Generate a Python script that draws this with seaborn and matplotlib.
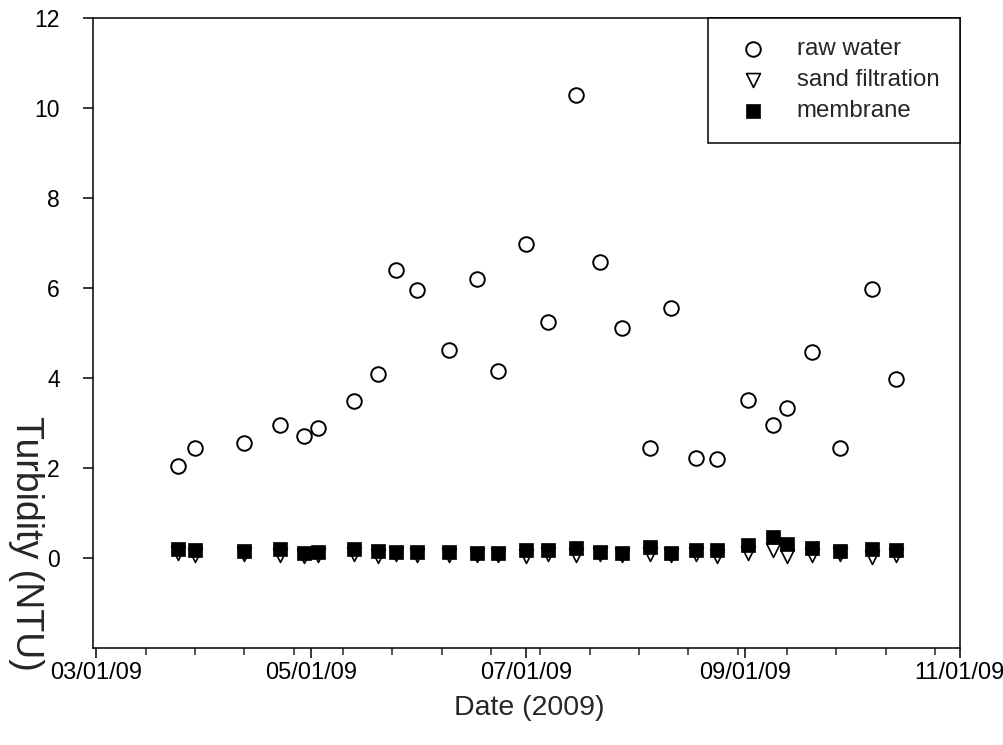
import pandas as pd
import matplotlib
matplotlib.use('Agg')
import matplotlib.pyplot as plt
import matplotlib.dates as mdates
import seaborn as sns

# sample dates and turbidity values (NTU)
dates = ['2009-03-24', '2009-03-29', '2009-04-12', '2009-04-22', '2009-04-29',
         '2009-05-03', '2009-05-13', '2009-05-20', '2009-05-25', '2009-05-31',
         '2009-06-09', '2009-06-17', '2009-06-23', '2009-07-01', '2009-07-07',
         '2009-07-15', '2009-07-22', '2009-07-28', '2009-08-05', '2009-08-11',
         '2009-08-18', '2009-08-24', '2009-09-02', '2009-09-09', '2009-09-13',
         '2009-09-20', '2009-09-28', '2009-10-07', '2009-10-14']
raw_water = [2.05, 2.45, 2.55, 2.95, 2.72, 2.90, 3.50, 4.10, 6.40, 5.95,
             4.63, 6.20, 4.15, 6.98, 5.25, 10.30, 6.57, 5.12, 2.45, 5.55,
             2.22, 2.20, 3.52, 2.96, 3.33, 4.57, 2.45, 5.98, 3.98]
sand_filtration = [0.12, 0.06, 0.10, 0.06, 0.05, 0.07, 0.10, 0.05, 0.08, 0.07,
                   0.07, 0.06, 0.07, 0.05, 0.08, 0.06, 0.08, 0.07, 0.09, 0.07,
                   0.08, 0.05, 0.12, 0.18, 0.04, 0.07, 0.08, 0.02, 0.06]
membrane = [0.19, 0.17, 0.16, 0.19, 0.11, 0.14, 0.19, 0.15, 0.14, 0.13,
            0.13, 0.12, 0.12, 0.17, 0.17, 0.22, 0.13, 0.12, 0.24, 0.12,
            0.17, 0.17, 0.29, 0.46, 0.32, 0.22, 0.16, 0.19, 0.18]

df = pd.DataFrame({'date': pd.to_datetime(dates), 'raw': raw_water,
                   'sand': sand_filtration, 'membrane': membrane})

sns.set_style('ticks')
plt.rcParams['font.family'] = ['Liberation Sans', 'DejaVu Sans']

fig = plt.figure(figsize=(10.04, 7.45), dpi=100)
ax = fig.add_axes([0.0926, 0.1302, 0.8634, 0.8456])

sns.scatterplot(data=df, x='date', y='raw', marker='o', s=110, color='white',
                edgecolor='black', linewidth=1.4, label='raw water', ax=ax, zorder=3)
sns.scatterplot(data=df, x='date', y='sand', marker='v', s=100, color='white',
                edgecolor='black', linewidth=1.2, label='sand filtration', ax=ax, zorder=4)
sns.scatterplot(data=df, x='date', y='membrane', marker='s', s=105, color='black',
                edgecolor='black', linewidth=0.5, label='membrane', ax=ax, zorder=5)

ax.set_xlim(pd.Timestamp('2009-02-28'), pd.Timestamp('2009-11-01'))
ax.set_ylim(-2, 12)
ax.set_yticks(range(0, 13, 2))
ax.xaxis.set_major_locator(mdates.MonthLocator(bymonth=[3, 5, 7, 9, 11]))
ax.xaxis.set_major_formatter(mdates.DateFormatter('%m/%d/%y'))
ax.xaxis.set_minor_locator(matplotlib.ticker.FixedLocator(
    mdates.date2num(pd.date_range('2009-03-01', '2009-10-31', freq='14D'))))

for side in ['top', 'right', 'bottom', 'left']:
    ax.spines[side].set_visible(True)
    ax.spines[side].set_linewidth(1.1)
    ax.spines[side].set_color('black')
ax.tick_params(axis='both', which='major', direction='out', length=7, width=1.1,
               colors='black')
ax.tick_params(axis='x', which='major', labelsize=17, pad=3)
ax.tick_params(axis='y', which='major', labelsize=16.5, pad=17)
ax.tick_params(axis='x', which='minor', direction='out', length=5, width=1.1)
ax.set_xlabel('')
ax.set_ylabel('')

fig.text(0.527, 0.050, 'Date (2009)', ha='center', va='center', fontsize=20.5)
fig.text(0.026, 0.270, 'Turbidity (NTU)', ha='center', va='center', fontsize=27,
         rotation=270)

leg = ax.legend(loc='upper right', borderaxespad=0, fancybox=False, framealpha=1,
                edgecolor='black', fontsize=17.3, borderpad=0.85, handlelength=2.0,
                handletextpad=0.83, labelspacing=0.37)
leg.get_frame().set_linewidth(1.1)

fig.savefig('out.png', dpi=100)
